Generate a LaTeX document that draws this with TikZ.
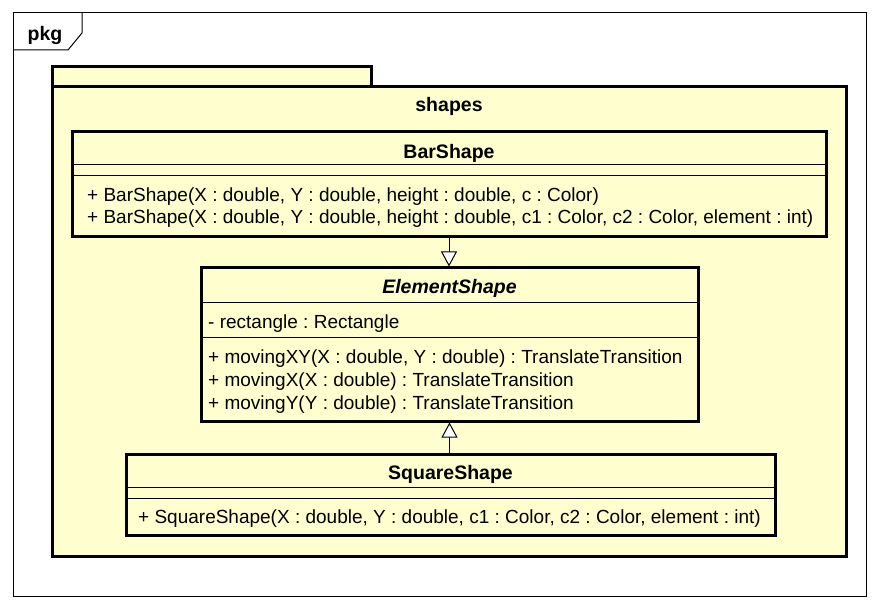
\documentclass[tikz,border=0pt]{standalone}
\usepackage{fontspec}
\setmainfont{Liberation Sans}
\usepackage{xcolor}
\usetikzlibrary{arrows.meta,positioning}
\definecolor{umlfill}{HTML}{FEFECE}
\frenchspacing

\begin{document}
\begin{tikzpicture}[
    x=1pt, y=-1pt,
    nosep/.style={inner sep=0},
    outerframe/.style={draw=black, line width=1pt},
    pkgbox/.style={draw=black, fill=umlfill, line width=3pt},
    classbox/.style={rectangle, draw=black, fill=umlfill, line width=3pt, nosep},
    divider/.style={draw=black, line width=1pt},
    classname/.style={nosep, anchor=base, font=\fontsize{19.5}{22}\selectfont\bfseries},
    member/.style={nosep, anchor=base west, font=\fontsize{19}{22}\selectfont},
    extends/.style={draw=black, line width=1pt, -{Triangle[width=16pt, length=15pt, fill=white]}}]
\useasboundingbox (0,0) rectangle (880,609);
\path[fill=white] (0,0) rectangle (880,609);

% diagram frame
\path[outerframe] (13,13) rectangle (866,596);
\path[outerframe] (13,50) -- (68,50) -- (82,33) -- (82,13);
\node (PKGLABEL) [classname] at (45,40.5) {pkg};

% package shapes
\path[pkgbox] (52,67) rectangle (371,87);
\node (SHAPES) [classbox, minimum width=794pt, minimum height=469pt] at (449,321.5) {};
\node (SHAPESNAME) [classname] at (449,111.5) {shapes};

% classes
\node (BARSHAPE)     [classbox, minimum width=754pt, minimum height=105pt] at (449,184.5) {};
\node (ELEMENTSHAPE) [classbox, minimum width=497pt, minimum height=153pt] at (449.5,344.5) {};
\node (SQUARESHAPE)  [classbox, minimum width=649pt, minimum height=81pt]  at (450.5,494.5) {};

\path[divider] (BARSHAPE.west |- 0,165) -- (BARSHAPE.east |- 0,165);
\path[divider] (BARSHAPE.west |- 0,176) -- (BARSHAPE.east |- 0,176);
\path[divider] (ELEMENTSHAPE.west |- 0,303) -- (ELEMENTSHAPE.east |- 0,303);
\path[divider] (ELEMENTSHAPE.west |- 0,337) -- (ELEMENTSHAPE.east |- 0,337);
\path[divider] (SQUARESHAPE.west |- 0,487) -- (SQUARESHAPE.east |- 0,487);
\path[divider] (SQUARESHAPE.west |- 0,498) -- (SQUARESHAPE.east |- 0,498);

\node (BARSHAPE-name) [classname] at (449,159) {BarShape};
\node (BARSHAPE-op-1) [member] at (87,201.5) {+ BarShape(X : double, Y : double, height : double, c : Color)};
\node (BARSHAPE-op-2) [member] at (87,223.5) {+ BarShape(X : double, Y : double, height : double, c1 : Color, c2 : Color, element : int)};

\node (ELEMENTSHAPE-name) [classname, font=\fontsize{19.5}{22}\selectfont\bfseries\itshape] at (449.5,294) {ElementShape};
\node (ELEMENTSHAPE-attr-1) [member] at (208,328) {- rectangle : Rectangle};
\node (ELEMENTSHAPE-op-1) [member] at (208,363) {+ movingXY(X : double, Y : double) : TranslateTransition};
\node (ELEMENTSHAPE-op-2) [member] at (208,386) {+ movingX(X : double) : TranslateTransition};
\node (ELEMENTSHAPE-op-3) [member] at (208,409) {+ movingY(Y : double) : TranslateTransition};

\node (SQUARESHAPE-name) [classname] at (450.5,479) {SquareShape};
\node (SQUARESHAPE-op-1) [member] at (138,523) {+ SquareShape(X : double, Y : double, c1 : Color, c2 : Color, element : int)};

% generalizations
\path[extends] (BARSHAPE.south) -- (BARSHAPE.south |- ELEMENTSHAPE.north);
\path[extends] (ELEMENTSHAPE.south |- SQUARESHAPE.north) -- (ELEMENTSHAPE.south);

\end{tikzpicture}
\end{document}
